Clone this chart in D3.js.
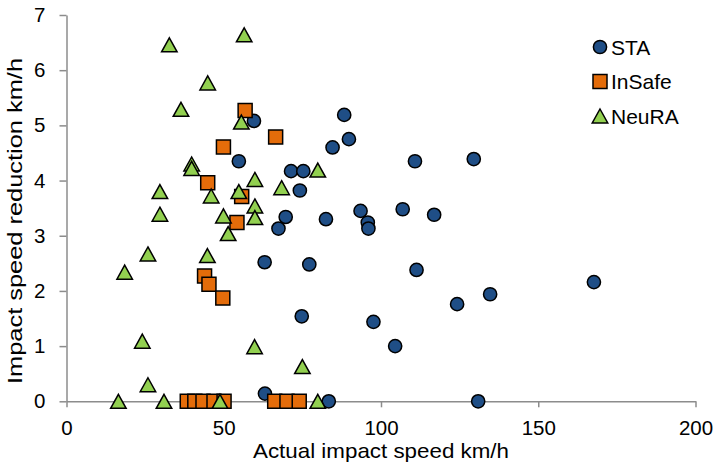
<!DOCTYPE html>
<html>
<head>
<meta charset="utf-8">
<script src="https://cdn.jsdelivr.net/npm/d3@7"></script>
<style>
  body { margin: 0; background: #fff; }
  svg { display: block; font-family: "Liberation Sans", Arial, sans-serif; }
</style>
</head>
<body>
<svg id="chart" width="716" height="473"></svg>
<script>
// [actual impact speed, reduction] per series
const staPoints = [
  [59.6, 5.08], [54.8, 4.35], [71.4, 4.17], [75.3, 4.17], [74.2, 3.82],
  [69.7, 3.34], [67.4, 3.13], [82.5, 3.30], [84.6, 4.60], [88.3, 5.19],
  [89.8, 4.75], [110.8, 4.35], [93.5, 3.45], [95.8, 3.24], [96.0, 3.13],
  [106.9, 3.48], [116.9, 3.38], [129.5, 4.39], [111.3, 2.38], [134.7, 1.94],
  [124.2, 1.76], [167.7, 2.16], [97.6, 1.44], [104.5, 1.00], [130.9, 0],
  [63.0, 2.52], [77.2, 2.48], [74.8, 1.54], [63.1, 0.14], [83.4, 0]
];
const inSafePoints = [
  [56.8, 5.27], [66.5, 4.79], [49.9, 4.61], [44.9, 3.96], [55.7, 3.71],
  [54.2, 3.24], [43.9, 2.27], [45.3, 2.12], [49.7, 1.87],
  [38.4, 0], [40.8, 0], [43.4, 0], [46.9, 0], [50.1, 0],
  [66.2, 0], [70.1, 0], [74.0, 0]
];
const neuraPoints = [
  [32.7, 6.46], [56.5, 6.64], [44.9, 5.77], [36.4, 5.29], [55.6, 5.06],
  [39.8, 4.30], [39.8, 4.22], [79.9, 4.19], [59.9, 4.02], [68.4, 3.87],
  [54.8, 3.80], [29.7, 3.80], [46.0, 3.72], [59.9, 3.54], [29.7, 3.39],
  [49.9, 3.36], [59.9, 3.33], [51.4, 3.04], [25.9, 2.67], [44.8, 2.64],
  [18.5, 2.34], [24.1, 1.09], [59.8, 0.99], [75.0, 0.63], [25.9, 0.30],
  [16.5, 0], [31.0, 0], [48.8, 0], [79.9, 0]
];
const xTicks = [0, 50, 100, 150, 200];
const yTicks = [0, 1, 2, 3, 4, 5, 6, 7];
const seriesNames = ["STA", "InSafe", "NeuRA"];
const seriesColors = ["#1f4e86", "#e46c0a", "#92d050"];
const xTitle = "Actual impact speed km/h";
const yTitle = "Impact speed reduction km/h";

const svg = d3.select("#chart");
const axisColor = "#8c8c8c";

const x = d3.scaleLinear().domain([0, 200]).range([66.5, 695.5]);
const y = d3.scaleLinear().domain([0, 7]).range([401.3, 15]);

// axes
const xAxis = svg.append("g").attr("transform", `translate(0,${y(0)})`)
  .call(d3.axisBottom(x).tickValues(xTicks).tickFormat(d3.format("d"))
    .tickSize(6).tickPadding(13).tickSizeOuter(0));
const yAxis = svg.append("g").attr("transform", `translate(${x(0)},0)`)
  .call(d3.axisLeft(y).tickValues(yTicks).tickFormat(d3.format("d"))
    .tickSize(7).tickPadding(14).tickSizeOuter(0));

[xAxis, yAxis].forEach(a => {
  a.select(".domain").attr("stroke", axisColor).attr("stroke-width", 1.5);
  a.selectAll(".tick line").attr("stroke", axisColor).attr("stroke-width", 1.5);
  a.selectAll(".tick text")
    .attr("fill", "#000")
    .style("font-size", "20.5px")
    .style("font-family", "Liberation Sans, Arial, sans-serif");
});

// markers
const circle = d3.symbol().type(d3.symbolCircle).size(Math.PI * 6.6 * 6.6);
function squarePath(s) {
  const h = s / 2;
  return `M${-h},${-h}H${h}V${h}H${-h}Z`;
}
function trianglePath(w, h) {
  return `M0,${-h / 2}L${w / 2},${h / 2}L${-w / 2},${h / 2}Z`;
}
const markerPaths = [
  () => circle(),
  () => squarePath(14),
  () => trianglePath(15.5, 14)
];

const allSeries = [staPoints, inSafePoints, neuraPoints];
allSeries.forEach((pts, i) => {
  svg.append("g")
    .selectAll("path")
    .data(pts)
    .join("path")
    .attr("d", markerPaths[i])
    .attr("transform", d => `translate(${x(d[0])},${y(d[1])})`)
    .attr("fill", seriesColors[i])
    .attr("stroke", "#000")
    .attr("stroke-width", 1.5);
});

// legend
const legend = svg.append("g").attr("transform", "translate(600,47)");
seriesNames.forEach((name, i) => {
  const g = legend.append("g").attr("transform", `translate(0,${i * 34.5})`);
  g.append("path")
    .attr("d", markerPaths[i]())
    .attr("fill", seriesColors[i])
    .attr("stroke", "#000")
    .attr("stroke-width", 1.5);
  g.append("text")
    .attr("x", 11)
    .attr("y", 7.5)
    .style("font-size", "21px")
    .text(name);
});

// axis titles
svg.append("text")
  .attr("x", (x(0) + x(200)) / 2)
  .attr("y", 458)
  .attr("text-anchor", "middle")
  .attr("textLength", 256)
  .attr("lengthAdjust", "spacingAndGlyphs")
  .style("font-size", "21px")
  .text(xTitle);

svg.append("text")
  .attr("transform", "translate(22,221) rotate(-90)")
  .attr("text-anchor", "middle")
  .attr("textLength", 326)
  .attr("lengthAdjust", "spacingAndGlyphs")
  .style("font-size", "20px")
  .text(yTitle);
</script>
</body>
</html>
